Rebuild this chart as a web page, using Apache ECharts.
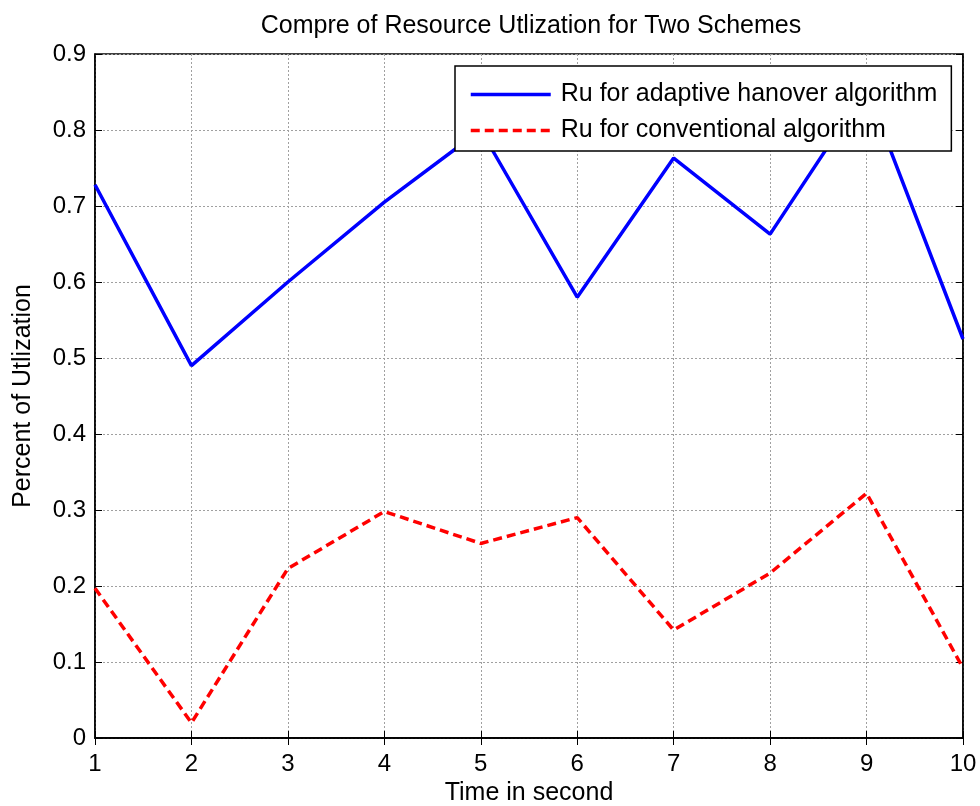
<!DOCTYPE html>
<html>
<head>
<meta charset="utf-8">
<script src="https://cdn.jsdelivr.net/npm/echarts@6/dist/echarts.min.js"></script>
<style>
html,body{margin:0;padding:0;background:#fff;}
#chart{width:980px;height:806px;}
</style>
</head>
<body>
<div id="chart"></div>
<script>
const timeSec = [1, 2, 3, 4, 5, 6, 7, 8, 9, 10];
const adaptiveRu = [0.728, 0.49, 0.60, 0.705, 0.80, 0.58, 0.763, 0.663, 0.855, 0.525];
const conventionalRu = [0.197, 0.02, 0.223, 0.298, 0.256, 0.29, 0.142, 0.217, 0.322, 0.092];
const yTicks = [0, 0.1, 0.2, 0.3, 0.4, 0.5, 0.6, 0.7, 0.8, 0.9];
const seriesNames = ['Ru for adaptive hanover algorithm', 'Ru for conventional algorithm'];

const font = 'Liberation Sans, Arial, sans-serif';
const chart = echarts.init(document.getElementById('chart'));
const pairs = arr => timeSec.map((t, i) => [t, arr[i]]);

chart.setOption({
  animation: false,
  backgroundColor: '#fff',
  title: {
    text: 'Compre of Resource Utlization for Two Schemes',
    left: 526, top: 9, textAlign: 'center',
    textStyle: { fontFamily: font, fontSize: 25, fontWeight: 'normal', color: '#000' }
  },
  grid: {
    left: 95, right: 17, top: 54, bottom: 68,
    containLabel: false, outerBoundsMode: 'none',
    show: true, borderColor: '#000', borderWidth: 1.5, backgroundColor: '#fff'
  },
  legend: {
    orient: 'vertical',
    left: 455, top: 66,
    padding: [16, 14, 8, 14],
    itemWidth: 80, itemHeight: 25, itemGap: 11,
    backgroundColor: '#fff', borderColor: '#000', borderWidth: 1.5, borderRadius: 0,
    itemStyle: { opacity: 0 },
    lineStyle: { width: 3.5 },
    textStyle: { fontFamily: font, fontSize: 25, color: '#000', padding: [0, 0, 0, 5] },
    data: seriesNames
  },
  xAxis: [{
    type: 'value', min: 1, max: 10, interval: 1,
    name: 'Time in second', nameLocation: 'middle', nameGap: 43,
    nameTextStyle: { fontFamily: font, fontSize: 25, color: '#000' },
    axisLine: { show: true, lineStyle: { color: '#000', width: 1.5 } },
    axisTick: { show: true, inside: true, length: 7, lineStyle: { color: '#000' } },
    axisLabel: { fontFamily: font, fontSize: 24, color: '#000', margin: 14 },
    splitLine: { show: true, lineStyle: { color: '#a0a0a0', type: [2, 2], width: 1 } }
  }, {
    type: 'value', min: 1, max: 10, interval: 1, position: 'top',
    axisLine: { show: true, lineStyle: { color: '#000', width: 1.5 } },
    axisTick: { show: true, inside: true, length: 7, lineStyle: { color: '#000' } },
    axisLabel: { show: false }, splitLine: { show: false }
  }],
  yAxis: [{
    type: 'value', min: 0, max: 0.9, interval: 0.1,
    name: 'Percent of Utlization', nameLocation: 'middle', nameGap: 59,
    nameTextStyle: { fontFamily: font, fontSize: 25, color: '#000' },
    axisLine: { show: true, lineStyle: { color: '#000', width: 1.5 } },
    axisTick: { show: true, inside: true, length: 7, lineStyle: { color: '#000' } },
    axisLabel: {
      fontFamily: font, fontSize: 24, color: '#000', margin: 9,
      formatter: v => { const t = yTicks.find(k => Math.abs(k - v) < 1e-9); return t === 0 ? '0' : String(t); }
    },
    splitLine: { show: true, lineStyle: { color: '#a0a0a0', type: [2, 2], width: 1 } }
  }, {
    type: 'value', min: 0, max: 0.9, interval: 0.1, position: 'right',
    axisLine: { show: true, lineStyle: { color: '#000', width: 1.5 } },
    axisTick: { show: true, inside: true, length: 7, lineStyle: { color: '#000' } },
    axisLabel: { show: false }, splitLine: { show: false }
  }],
  series: [{
    name: seriesNames[0], type: 'line', data: pairs(adaptiveRu),
    symbol: 'none', color: '#0000ff',
    lineStyle: { color: '#0000ff', width: 3.5 }, z: 3
  }, {
    name: seriesNames[1], type: 'line', data: pairs(conventionalRu),
    symbol: 'none', color: '#ff0000',
    lineStyle: { color: '#ff0000', width: 3.5, type: [9, 5] }, z: 3
  }]
});
</script>
</body>
</html>
